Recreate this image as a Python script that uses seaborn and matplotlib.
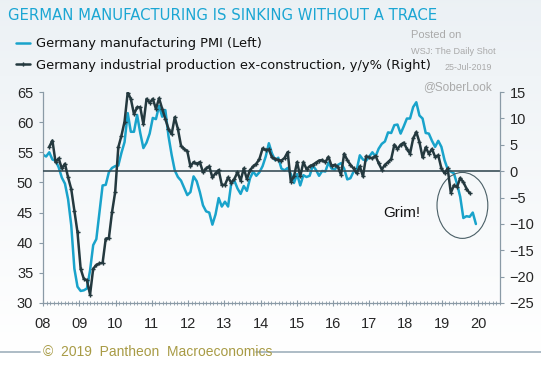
import numpy as np
import pandas as pd
import matplotlib
matplotlib.use("Agg")
import matplotlib.pyplot as plt
import seaborn as sns
from matplotlib.patches import Ellipse
from matplotlib.lines import Line2D

# Germany manufacturing PMI, monthly from Jan 2008 (left axis)
pmi_2008 = [54.6, 54.3, 55.0, 53.8, 53.6, 52.5, 50.8, 49.8, 47.2, 42.9, 35.7, 32.7]
pmi_2009 = [32.0, 32.1, 32.4, 35.4, 39.6, 40.6, 45.1, 49.5, 49.6, 51.7, 52.4, 52.7]
pmi_2010 = [52.8, 54.9, 56.7, 61.5, 58.4, 58.4, 61.2, 58.2, 55.7, 56.6, 58.1, 60.7]
pmi_2011 = [60.5, 62.7, 60.9, 62.0, 57.7, 54.6, 52.0, 50.9, 50.3, 49.1, 47.9, 48.4]
pmi_2012 = [51.0, 50.2, 48.4, 46.2, 45.2, 45.0, 43.0, 44.7, 47.4, 46.0, 46.8, 46.0]
pmi_2013 = [49.8, 50.3, 49.0, 48.1, 49.4, 48.6, 50.7, 51.8, 51.1, 51.7, 52.7, 54.3]
pmi_2014 = [56.5, 54.8, 53.7, 54.1, 52.3, 52.0, 52.4, 51.4, 49.9, 51.4, 49.5, 51.2]
pmi_2015 = [50.9, 51.1, 52.8, 52.1, 51.1, 51.9, 51.8, 53.3, 52.3, 52.1, 52.9, 53.2]
pmi_2016 = [52.3, 50.5, 50.7, 51.8, 52.1, 54.5, 53.8, 53.6, 54.3, 55.0, 54.3, 55.6]
pmi_2017 = [56.4, 56.8, 58.3, 58.2, 59.5, 59.6, 58.1, 59.3, 60.6, 60.6, 62.5, 63.3]
pmi_2018 = [61.1, 60.6, 58.2, 58.1, 56.9, 55.9, 56.9, 55.9, 53.7, 52.2, 51.8, 51.5]
pmi_2019 = [49.7, 47.6, 44.1, 44.4, 44.3, 45.0, 43.1]

# Germany industrial production ex-construction y/y%, monthly from Mar 2008 (right axis)
ip_2008 = [4.6, 5.8, 1.7, 2.4, 0.5, 1.4, -1.2, -3.4, -7.5, -11.6]
ip_2009 = [-18.5, -20.4, -20.7, -23.4, -18.5, -17.8, -17.5, -17.4, -12.8, -12.7, -7.8, -4.0]
ip_2010 = [4.5, 6.7, 9.4, 14.9, 13.7, 10.8, 12.1, 12.1, 8.9, 13.7, 13.0, 13.7]
ip_2011 = [11.8, 13.8, 11.8, 9.9, 8.0, 7.0, 10.2, 8.0, 4.8, 4.2, 3.8, 0.9]
ip_2012 = [1.7, 1.4, 1.7, -0.2, 0.5, 0.9, -1.2, -0.4, 0.2, -2.6, -2.6, -1.2]
ip_2013 = [-2.2, -1.5, -0.2, -1.8, 0.5, -1.5, 0.2, 0.9, 1.4, 2.3, 4.3, 4.0]
ip_2014 = [4.1, 2.6, 2.3, 2.1, 2.0, 2.5, 3.6, -2.0, -1.0, 1.7, -1.0, 1.7]
ip_2015 = [0.4, 0.9, 1.2, 1.6, 2.0, 2.1, 1.7, 2.7, 1.0, 1.2, 0.8, -0.7]
ip_2016 = [3.3, 2.1, 1.2, 0.5, -0.4, 0.9, -1.0, 2.8, 2.6, 2.4, 2.9, 1.5]
ip_2017 = [0.3, 1.2, 1.7, 2.3, 5.0, 4.2, 5.0, 5.4, 4.2, 3.3, 6.2, 7.4]
ip_2018 = [5.5, 2.6, 4.5, 3.3, 4.2, 2.7, 3.0, 0.5, -0.4, 0.5, -4.1, -2.7]
ip_2019 = [-3.0, -1.3, -2.1, -3.3, -4.2]

year_labels = ["08", "09", "10", "11", "12", "13", "14", "15", "16", "17", "18", "19", "20"]
left_ticks = [30, 35, 40, 45, 50, 55, 60, 65]
right_ticks = [-25, -20, -15, -10, -5, 0, 5, 10, 15]

pmi = (pmi_2008 + pmi_2009 + pmi_2010 + pmi_2011 + pmi_2012 + pmi_2013
       + pmi_2014 + pmi_2015 + pmi_2016 + pmi_2017 + pmi_2018 + pmi_2019)
ip = (ip_2008 + ip_2009 + ip_2010 + ip_2011 + ip_2012 + ip_2013
      + ip_2014 + ip_2015 + ip_2016 + ip_2017 + ip_2018 + ip_2019)

pmi_df = pd.DataFrame({"month": np.arange(len(pmi)), "value": pmi})
ip_df = pd.DataFrame({"month": np.arange(len(ip)) + 2, "value": ip})

CYAN = "#19a3cb"
DARK = "#24393f"
GREY = "#8a9aa6"

sns.set_style("white")
plt.rcParams['font.family'] = ['Liberation Sans', 'DejaVu Sans']

fig = plt.figure(figsize=(5.41, 3.73), dpi=100)

# background gradient
bg = fig.add_axes([0, 0, 1, 1], zorder=0)
top = np.array([0.925, 0.945, 0.96])
bot = np.array([1.0, 1.0, 1.0])
t = np.linspace(0, 1, 300)[:, None]
grad = top[None, :] * (1 - t) + bot[None, :] * t
grad = grad[:, None, :].repeat(2, axis=1)
bg.imshow(grad, aspect="auto", extent=[0, 1, 0.06, 1])
bg.set_xlim(0, 1)
bg.set_ylim(0, 1)
bg.axis("off")

ax = fig.add_axes([43 / 541, 1 - 303 / 373, 457 / 541, 211 / 373], zorder=1)
ax.patch.set_alpha(0)
ax2 = ax.twinx()

sns.lineplot(data=pmi_df, x="month", y="value", ax=ax, color=CYAN, lw=1.8)
sns.lineplot(data=ip_df, x="month", y="value", ax=ax2, color=DARK, lw=1.8,
             marker="P", markersize=3.0, markeredgewidth=0)

label_step = 36.25 / 3.137
ax.set_xlim(0, 457 / 3.137)
ax.set_ylim(30, 65)
ax2.set_ylim(-25, 15)
ax.set_xticks(np.arange(len(year_labels)) * label_step)
ax.set_xticklabels(year_labels)
ax.set_xticks(np.arange(0, 457 / 3.137, label_step / 10), minor=True)
ax.set_yticks(left_ticks)
ax2.set_yticks(right_ticks)
ax.set_xlabel("")
ax.set_ylabel("")
ax2.set_ylabel("")

ax2.axhline(0, color="#3a5058", lw=1.2, zorder=1)

for a in (ax, ax2):
    for s in a.spines.values():
        s.set_visible(False)
ax.spines["left"].set_visible(True)
ax.spines["bottom"].set_visible(True)
ax2.spines["right"].set_visible(True)
for s in (ax.spines["left"], ax.spines["bottom"], ax2.spines["right"]):
    s.set_color(GREY)
    s.set_linewidth(0.9)

ax.tick_params(axis="y", which="major", direction="out", length=3, width=0.8,
               color=GREY, labelsize=10.5, pad=4, left=True)
ax2.tick_params(axis="y", which="major", direction="out", length=3, width=0.8,
                color=GREY, labelsize=10.5, pad=4, right=True)
ax.tick_params(axis="x", which="major", direction="inout", length=4, width=0.8,
               color=GREY, labelsize=10.5, pad=8, bottom=True)
ax.tick_params(axis="x", which="minor", direction="inout", length=3, width=0.6,
               color=GREY, bottom=True)

# annotation
ax2.add_patch(Ellipse((133.7, -6.5), 16.2, 12.5, fill=False, edgecolor="#4a5f66", lw=0.8))
ax2.text(108.6, -7.9, "Grim!", fontsize=11, color="#111111", va="center", ha="left")

# title, legend, notes
fig.text(8 / 541, 1 - 15 / 373, "GERMAN MANUFACTURING IS SINKING WITHOUT A TRACE",
         color="#1ba6d3", fontsize=10.75, fontfamily="DejaVu Sans", va="center", ha="left")

fig.add_artist(Line2D([16 / 541, 30 / 541], [1 - 43 / 373, 1 - 43 / 373],
                      color=CYAN, lw=1.8, transform=fig.transFigure))
fig.add_artist(Line2D([16 / 541, 30 / 541], [1 - 64 / 373, 1 - 64 / 373],
                      color=DARK, lw=1.8, transform=fig.transFigure))
fig.add_artist(Line2D([23 / 541], [1 - 64 / 373], color=DARK, marker="P",
                      markersize=3.0, markeredgewidth=0, transform=fig.transFigure))
fig.text(36 / 541, 1 - 44 / 373, "Germany manufacturing PMI (Left)",
         fontsize=9.4, fontfamily="DejaVu Sans", color="#111111", va="center")
fig.text(36 / 541, 1 - 65 / 373, "Germany industrial production ex-construction, y/y% (Right)",
         fontsize=9.4, fontfamily="DejaVu Sans", color="#111111", va="center")

fig.text(411 / 541, 1 - 35 / 373, "Posted on", fontsize=8, color="#aaaaaa", va="center")
fig.text(411 / 541, 1 - 51 / 373, "WSJ: The Daily Shot", fontsize=6.6, color="#aaaaaa", va="center")
fig.text(445 / 541, 1 - 67 / 373, "25-Jul-2019", fontsize=6.4, color="#aaaaaa", va="center")
fig.text(423 / 541, 1 - 87 / 373, "@SoberLook", fontsize=8.5, color="#aaaaaa", va="center")

# footer
fig.add_artist(Line2D([0, 40 / 541], [1 - 352 / 373, 1 - 352 / 373], color="#9fb0bc",
                      lw=1.2, transform=fig.transFigure))
fig.add_artist(Line2D([256 / 541, 1], [1 - 352 / 373, 1 - 352 / 373], color="#9fb0bc",
                      lw=1.2, transform=fig.transFigure))
fig.text(43 / 541, 1 - 352 / 373, "©  2019  Pantheon  Macroeconomics", fontsize=10,
         color="#a89b45", va="center")

fig.savefig("out.png", dpi=100)
